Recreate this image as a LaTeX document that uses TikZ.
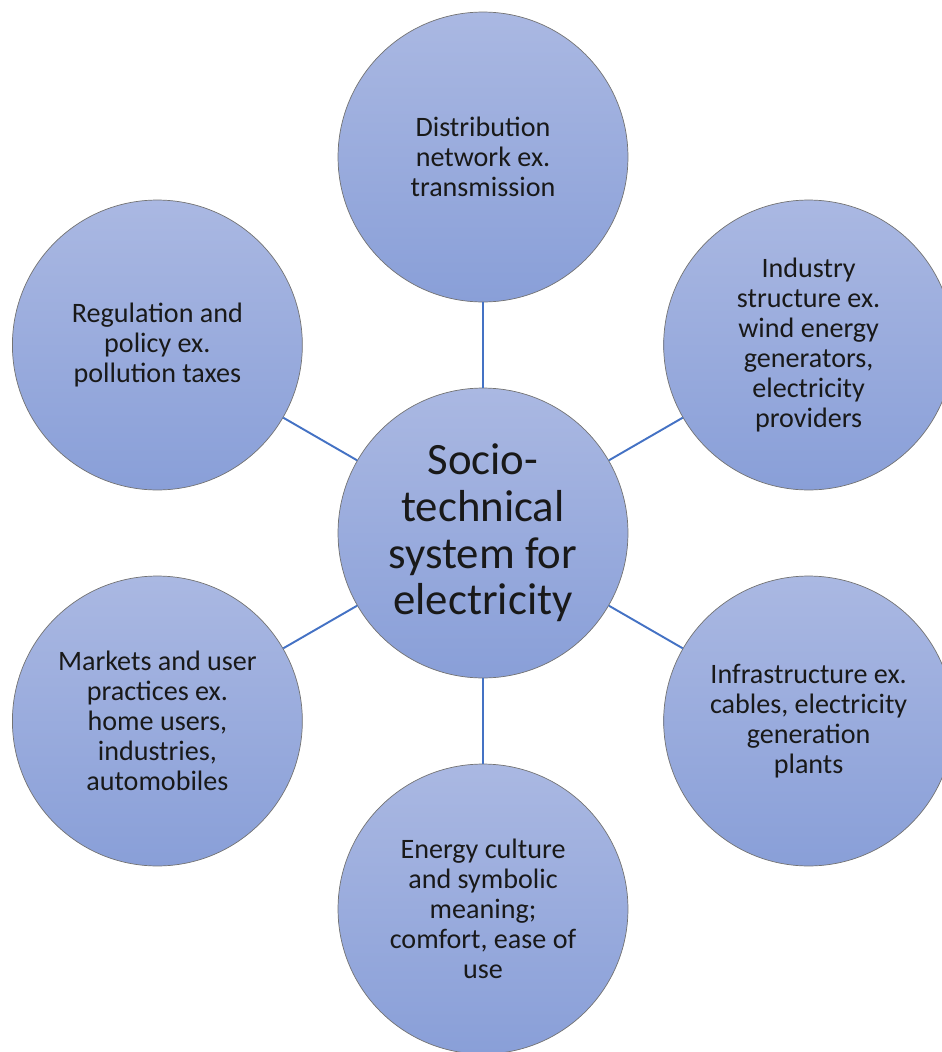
\documentclass[tikz,border=0pt]{standalone}
\usepackage{fontspec}
\setmainfont{Carlito}
\usepackage{tikz}
\usetikzlibrary{calc}
\usepackage{xcolor}

\definecolor{circtop}{RGB}{170,184,226}
\definecolor{circbot}{RGB}{137,159,216}
\definecolor{enlazul}{RGB}{68,114,196}

\begin{document}
\begin{tikzpicture}[x=0.02cm,y=0.02cm,
  circulo/.style={circle,minimum size=5.8cm,inner sep=0pt,draw=black!55,line width=0.4pt,
    top color=circtop,bottom color=circbot,align=center,text=black!90,
    font=\fontsize{16}{17}\selectfont},
  enlace/.style={enlazul,line width=1.1pt}]

  % Marco de la imagen (en pixeles)
  \useasboundingbox (0,0) rectangle (942,-1052);

  % Parámetros del hexágono
  \def\cx{483}
  \def\cy{-533}
  \def\dist{376}

  % Círculo central
  \node[circulo,font=\fontsize{25.5}{26.5}\selectfont] (sistema) at (\cx,\cy)
    {Socio-\\technical\\system for\\electricity};

  % Círculos exteriores
  \node[circulo] (red) at ($(sistema)+(90:\dist)$)
    {Distribution\\network ex.\\transmission};
  \node[circulo] (industria) at ($(sistema)+(30:\dist)$)
    {Industry\\structure ex.\\wind energy\\generators,\\electricity\\providers};
  \node[circulo] (infra) at ($(sistema)+(-30:\dist)$)
    {Infrastructure ex.\\cables, electricity\\generation\\plants};
  \node[circulo] (cultura) at ($(sistema)+(-90:\dist)$)
    {Energy culture\\and symbolic\\meaning;\\comfort, ease of\\use};
  \node[circulo] (mercados) at ($(sistema)+(210:\dist)$)
    {Markets and user\\practices ex.\\home users,\\industries,\\automobiles};
  \node[circulo] (regulacion) at ($(sistema)+(150:\dist)$)
    {Regulation and\\policy ex.\\pollution taxes};

  % Enlaces al centro
  \foreach \n in {red,industria,infra,cultura,mercados,regulacion} {
    \draw[enlace] (sistema) -- (\n);
  }

\end{tikzpicture}
\end{document}
